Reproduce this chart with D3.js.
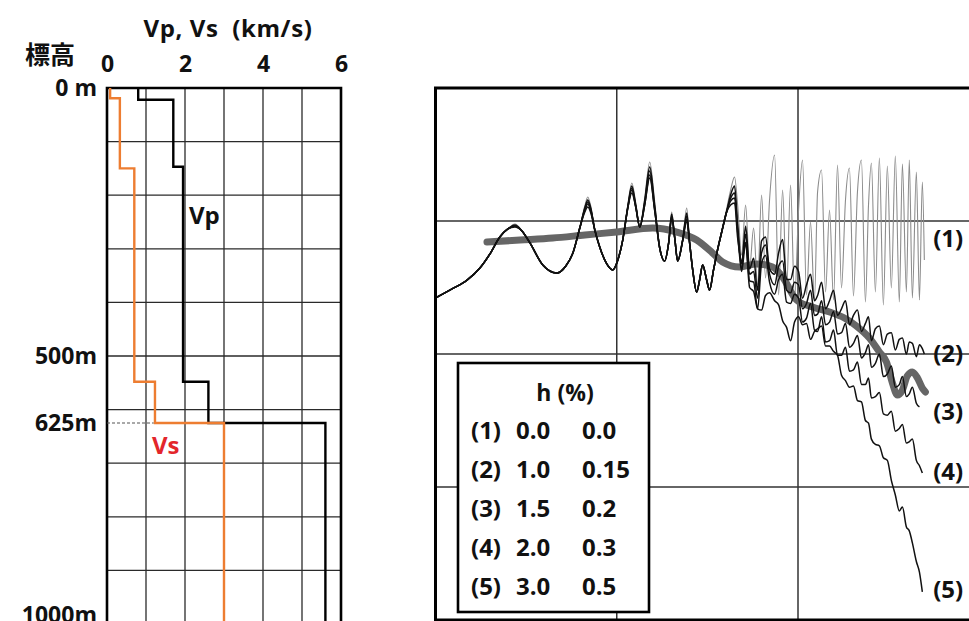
<!DOCTYPE html>
<html>
<head>
<meta charset="utf-8">
<script src="https://cdn.jsdelivr.net/npm/d3@7"></script>
<style>
  body { margin: 0; background: #fff; }
  text { font-family: "Open Sans", "Noto Sans CJK JP", sans-serif; font-weight: bold; fill: #111; }
</style>
</head>
<body>
<script>
// 速度構造 (深さ m, km/s)
var vpTop = [0, 22, 147, 548, 625];
var vpVal = [0.8, 1.7, 1.95, 2.6, 5.6];
var vsTop = [0, 19, 150, 548, 625];
var vsVal = [0.08, 0.33, 0.7, 1.23, 3.0];
var velTicks = [0, 2, 4, 6];
var depthTicks = [0, 500, 625, 1000];
var depthLabels = ["0 m", "500m", "625m", "1000m"];

// 伝達関数 (log10 f, log10 振幅)
var lowLogF = [-1.0, -0.909, -0.826, -0.755, -0.700, -0.645, -0.601, -0.562, -0.523, -0.479, -0.408, -0.331, -0.281,
  -0.242, -0.204, -0.176, -0.160, -0.143, -0.121, -0.094, -0.055, -0.022, 0.006, 0.033, 0.061, 0.083, 0.105, 0.127,
  0.154, 0.182, 0.209, 0.237, 0.264, 0.287, 0.303, 0.320, 0.336, 0.364, 0.386, 0.402, 0.419, 0.441, 0.457, 0.474,
  0.496, 0.512, 0.534, 0.556, 0.579, 0.606, 0.628, 0.650];
var highLogF = [0.667, 0.689, 0.711, 0.733, 0.755, 0.777, 0.799, 0.821, 0.843, 0.871, 0.893, 0.915, 0.937, 0.959,
  0.981, 1.003, 1.025, 1.047, 1.069, 1.091, 1.108, 1.130, 1.152, 1.174, 1.196, 1.218, 1.240, 1.262, 1.284, 1.306,
  1.328, 1.350, 1.372, 1.389, 1.405, 1.427, 1.449, 1.471, 1.493, 1.515, 1.537, 1.559, 1.576, 1.598, 1.614, 1.631,
  1.653, 1.670, 1.686, 1.697];

var amp1Low = [0.421, 0.489, 0.556, 0.647, 0.752, 0.880, 0.940, 0.977, 0.925, 0.835, 0.669, 0.609, 0.662, 0.759, 0.947,
  1.115, 1.180, 1.110, 0.932, 0.805, 0.677, 0.632, 0.707, 0.857, 1.120, 1.286, 1.135, 0.955, 1.170, 1.444, 1.150, 0.797,
  0.699, 0.842, 1.068, 0.872, 0.699, 0.857, 1.098, 0.835, 0.632, 0.466, 0.556, 0.669, 0.556, 0.481, 0.632, 0.782, 0.917,
  1.090, 1.230, 1.331];
var amp1High = [1.120, 0.744, 1.120, 0.647, 0.947, 0.519, 1.195, 0.571, 1.158, 1.496, 0.444, 1.233, 0.481, 1.271, 0.406,
  1.083, 1.459, 0.444, 0.992, 0.406, 1.218, 1.383, 0.466, 1.083, 0.406, 1.421, 0.496, 1.158, 1.398, 0.436, 1.218, 1.459,
  0.391, 1.120, 1.436, 0.466, 1.474, 0.368, 1.414, 0.496, 1.489, 0.391, 1.429, 0.466, 1.459, 0.421, 1.368, 0.406, 1.293,
  0.707];

var amp2Low = [0.421, 0.489, 0.556, 0.647, 0.752, 0.880, 0.940, 0.970, 0.925, 0.835, 0.669, 0.609, 0.662, 0.759, 0.947,
  1.100, 1.158, 1.095, 0.932, 0.805, 0.677, 0.632, 0.707, 0.857, 1.110, 1.263, 1.120, 0.955, 1.150, 1.406, 1.120, 0.797,
  0.699, 0.842, 1.053, 0.872, 0.699, 0.857, 1.060, 0.835, 0.632, 0.466, 0.556, 0.669, 0.556, 0.481, 0.632, 0.782, 0.917,
  1.068, 1.195, 1.263];
var amp2High = [0.970, 0.680, 0.960, 0.640, 0.720, 0.480, 0.850, 0.880, 0.640, 0.600, 0.760, 0.860, 0.560, 0.560, 0.660,
  0.620, 0.420, 0.520, 0.600, 0.400, 0.440, 0.540, 0.340, 0.400, 0.480, 0.290, 0.340, 0.400, 0.220, 0.290, 0.330, 0.170,
  0.230, 0.280, 0.100, 0.190, 0.210, 0.070, 0.150, 0.160, 0.030, 0.110, 0.120, 0.000, 0.090, 0.080, -0.020, 0.070,
  0.040, 0.000];

var amp3Low = [0.421, 0.489, 0.556, 0.647, 0.752, 0.880, 0.940, 0.962, 0.925, 0.835, 0.669, 0.609, 0.662, 0.759, 0.947,
  1.090, 1.143, 1.085, 0.932, 0.805, 0.677, 0.632, 0.707, 0.857, 1.098, 1.248, 1.105, 0.955, 1.135, 1.376, 1.100, 0.797,
  0.699, 0.842, 1.038, 0.872, 0.699, 0.857, 1.038, 0.835, 0.632, 0.466, 0.556, 0.669, 0.556, 0.481, 0.632, 0.782, 0.917,
  1.068, 1.170, 1.211];
var amp3High = [0.947, 0.640, 0.900, 0.600, 0.620, 0.420, 0.760, 0.820, 0.600, 0.520, 0.660, 0.700, 0.480, 0.460, 0.540,
  0.520, 0.340, 0.380, 0.480, 0.290, 0.300, 0.400, 0.220, 0.240, 0.320, 0.150, 0.160, 0.230, 0.050, 0.080, 0.140, -0.030,
  0.010, 0.070, -0.100, -0.070, 0.000, -0.170, -0.150, -0.090, -0.250, -0.230, -0.170, -0.320, -0.300, -0.250, -0.370,
  -0.398, null, null];

var amp4Low = [0.421, 0.489, 0.556, 0.647, 0.752, 0.880, 0.940, 0.962, 0.925, 0.835, 0.669, 0.609, 0.662, 0.759, 0.947,
  1.080, 1.128, 1.075, 0.932, 0.805, 0.677, 0.632, 0.707, 0.857, 1.098, 1.233, 1.105, 0.955, 1.120, 1.346, 1.083, 0.797,
  0.699, 0.842, 1.030, 0.872, 0.699, 0.857, 1.015, 0.835, 0.632, 0.466, 0.556, 0.669, 0.556, 0.481, 0.632, 0.782, 0.917,
  1.068, 1.150, 1.173];
var amp4High = [0.917, 0.620, 0.840, 0.550, 0.540, 0.340, 0.680, 0.740, 0.540, 0.450, 0.560, 0.600, 0.390, 0.380, 0.450,
  0.420, 0.240, 0.270, 0.380, 0.180, 0.170, 0.280, 0.090, 0.100, 0.180, -0.010, -0.010, 0.050, -0.130, -0.120, -0.060,
  -0.230, -0.230, -0.180, -0.330, -0.320, -0.290, -0.450, -0.460, -0.430, -0.580, -0.560, -0.530, -0.670, -0.660, -0.640,
  -0.800, -0.840, -0.895, null];

var amp5Low = [0.421, 0.489, 0.556, 0.647, 0.752, 0.880, 0.940, 0.955, 0.925, 0.835, 0.669, 0.609, 0.662, 0.759, 0.947,
  1.068, 1.105, 1.060, 0.932, 0.805, 0.677, 0.632, 0.707, 0.857, 1.098, 1.211, 1.105, 0.955, 1.120, 1.323, 1.083, 0.797,
  0.699, 0.842, 1.015, 0.872, 0.699, 0.857, 0.992, 0.835, 0.632, 0.466, 0.556, 0.669, 0.556, 0.481, 0.632, 0.782, 0.917,
  1.068, 1.120, 1.135];
var amp5High = [0.872, 0.700, 0.830, 0.500, 0.470, 0.340, 0.330, 0.440, 0.460, 0.400, 0.370, 0.250, 0.200, 0.100, 0.240,
  0.280, 0.220, 0.230, 0.110, 0.170, 0.190, 0.210, 0.060, 0.060, 0.020, -0.010, -0.160, -0.200, -0.250, -0.240, -0.350,
  -0.360, -0.500, -0.520, -0.640, -0.680, -0.690, -0.780, -0.800, -0.950, -1.060, -1.180, -1.150, -1.300, -1.330, -1.420,
  -1.560, -1.640, -1.789, null];

// 平滑化した太線
var smoothLogF = [-0.716, -0.534, -0.353, -0.176, 0, 0.198, 0.331, 0.441, 0.529, 0.584, 0.678, 0.771, 0.860, 0.915,
  0.992, 1.080, 1.174, 1.256, 1.322, 1.394, 1.449, 1.488, 1.521, 1.548, 1.576, 1.603, 1.631, 1.659, 1.686, 1.703];
var smoothAmp = [0.842, 0.857, 0.872, 0.895, 0.917, 0.947, 0.917, 0.857, 0.759, 0.692, 0.654, 0.677, 0.654, 0.579,
  0.406, 0.353, 0.316, 0.271, 0.211, 0.120, 0.015, -0.060, -0.218, -0.308, -0.271, -0.165, -0.135, -0.180, -0.256, -0.286];

var endLabels = ["(1)", "(2)", "(3)", "(4)", "(5)"];
var endLabelAmp = [0.805, -0.060, -0.496, -0.947, -1.835];
var legendNo = ["(1)", "(2)", "(3)", "(4)", "(5)"];
var legendH1 = ["0.0", "1.0", "1.5", "2.0", "3.0"];
var legendH2 = ["0.0", "0.15", "0.2", "0.3", "0.5"];

var width = 969, height = 621;
var svg = d3.select("body").append("svg").attr("width", width).attr("height", height);

//==== 左: Vp, Vs ====
var xV = d3.scaleLinear().domain([0, 6]).range([107, 341]);
var yD = d3.scaleLinear().domain([0, 1000]).range([88, 624]);
var gL = svg.append("g");

gL.selectAll(".vgrid").data(d3.range(1, 6)).enter().append("line")
  .attr("x1", d => xV(d)).attr("x2", d => xV(d))
  .attr("y1", yD(0)).attr("y2", yD(1000))
  .attr("stroke", "#2a2a2a").attr("stroke-width", 1.3);
gL.selectAll(".hgrid").data(d3.range(100, 1000, 100)).enter().append("line")
  .attr("x1", xV(0)).attr("x2", xV(6))
  .attr("y1", d => yD(d)).attr("y2", d => yD(d))
  .attr("stroke", "#2a2a2a").attr("stroke-width", 1.3);

// 枠
gL.append("path")
  .attr("d", `M${xV(0)},${yD(1000)}V${yD(0)}H${xV(6)}V${yD(1000)}`)
  .attr("fill", "none").attr("stroke", "#000").attr("stroke-width", 2.6);

// 625m の破線
gL.append("line")
  .attr("x1", xV(0)).attr("x2", xV(1.2))
  .attr("y1", yD(625)).attr("y2", yD(625))
  .attr("stroke", "#555").attr("stroke-width", 1.2).attr("stroke-dasharray", "3,2");

function stepPts(tops, vals) {
  var pts = [];
  tops.forEach(function (t, i) {
    var bot = i < tops.length - 1 ? tops[i + 1] : 1000;
    pts.push([vals[i], t], [vals[i], bot]);
  });
  return pts;
}
var stepLine = d3.line().x(d => xV(d[0])).y(d => yD(d[1]));

gL.append("path").attr("d", stepLine(stepPts(vpTop, vpVal)))
  .attr("fill", "none").attr("stroke", "#000").attr("stroke-width", 2.4);
gL.append("path").attr("d", stepLine(stepPts(vsTop, vsVal)))
  .attr("fill", "none").attr("stroke", "#ED7D31").attr("stroke-width", 2.4);

// 軸ラベル
var axTop = gL.append("g").attr("transform", "translate(0,72)")
  .call(d3.axisTop(xV).tickValues(velTicks).tickFormat(d3.format("d")).tickSize(0).tickPadding(0));
axTop.select(".domain").remove();
axTop.selectAll("text").style("font-size", "23px").style("font-family", "'Open Sans'")
  .style("font-weight", "bold").style("fill", "#111");

gL.selectAll(".dlab").data(depthTicks).enter().append("text")
  .attr("x", 97).attr("y", d => Math.min(yD(d) + 8, 623))
  .attr("text-anchor", "end").attr("font-size", 23)
  .text((d, i) => depthLabels[i]);

gL.append("text").attr("x", 228).attr("y", 37).attr("text-anchor", "middle")
  .attr("font-size", 24).style("letter-spacing", "0.6px").text("Vp, Vs\u00a0\u00a0(km/s)");
gL.append("text").attr("x", 50).attr("y", 64).attr("text-anchor", "middle")
  .attr("font-size", 25).style("font-family", "'Noto Sans CJK JP'").text("標高");
gL.append("text").attr("x", 189).attr("y", 224).attr("font-size", 24).text("Vp");
gL.append("text").attr("x", 152).attr("y", 454).attr("font-size", 24)
  .style("fill", "#E3262B").text("Vs");

//==== 右: 伝達関数 ====
var xF = d3.scaleLinear().domain([-1, 1]).range([435.5, 798]);
var yA = d3.scaleLinear().domain([-2, 2]).range([620, 88]);
var gR = svg.append("g");

gR.append("clipPath").attr("id", "clipR").append("rect")
  .attr("x", xF(-1)).attr("y", yA(2)).attr("width", 560).attr("height", yA(-2) - yA(2));

gR.selectAll(".vgrid").data([0, 1]).enter().append("line")
  .attr("x1", d => xF(d)).attr("x2", d => xF(d)).attr("y1", yA(2)).attr("y2", yA(-2))
  .attr("stroke", "#333").attr("stroke-width", 1.5);
gR.selectAll(".hgrid").data([1, 0, -1]).enter().append("line")
  .attr("x1", xF(-1)).attr("x2", 990).attr("y1", d => yA(d)).attr("y2", d => yA(d))
  .attr("stroke", "#333").attr("stroke-width", 1.5);

function series(lowAmp, highAmp) {
  return lowLogF.map((f, i) => [f, lowAmp[i]])
    .concat(highLogF.map((f, i) => [f, highAmp[i]]));
}
var ampLine = d3.line()
  .defined(d => d[1] != null)
  .x(d => xF(d[0])).y(d => yA(d[1]))
  .curve(d3.curveMonotoneX);

var plot = gR.append("g").attr("clip-path", "url(#clipR)");

plot.append("path").attr("d", ampLine(series(amp1Low, amp1High)))
  .attr("fill", "none").attr("stroke", "#8c8c8c").attr("stroke-width", 1.1);
plot.append("path").attr("d", ampLine(smoothLogF.map((f, i) => [f, smoothAmp[i]])))
  .attr("fill", "none").attr("stroke", "#666").attr("stroke-width", 7)
  .attr("stroke-linecap", "round").attr("stroke-linejoin", "round");
[[amp2Low, amp2High], [amp3Low, amp3High], [amp4Low, amp4High], [amp5Low, amp5High]].forEach(function (s) {
  plot.append("path").attr("d", ampLine(series(s[0], s[1])))
    .attr("fill", "none").attr("stroke", "#111").attr("stroke-width", 1.5);
});

// 枠
gR.append("path")
  .attr("d", `M990,${yA(2)}H${xF(-1)}V${yA(-2)}H990`)
  .attr("fill", "none").attr("stroke", "#000").attr("stroke-width", 3);

gR.selectAll(".endlab").data(endLabels).enter().append("text")
  .attr("x", xF(1.746)).attr("y", (d, i) => yA(endLabelAmp[i]))
  .attr("font-size", 24).text(d => d);

// 凡例
var lg = gR.append("g");
lg.append("rect").attr("x", 458).attr("y", 363).attr("width", 191).attr("height", 249)
  .attr("fill", "#fff").attr("stroke", "#000").attr("stroke-width", 2.6);
lg.append("text").attr("x", 565).attr("y", 401).attr("text-anchor", "middle")
  .attr("font-size", 23).text("h (%)");
legendNo.forEach(function (n, i) {
  var y = 439 + i * 39;
  lg.append("text").attr("x", 471).attr("y", y).attr("font-size", 24).text(n);
  lg.append("text").attr("x", 516).attr("y", y).attr("font-size", 24).text(legendH1[i]);
  lg.append("text").attr("x", 582).attr("y", y).attr("font-size", 24).text(legendH2[i]);
});
</script>
</body>
</html>
